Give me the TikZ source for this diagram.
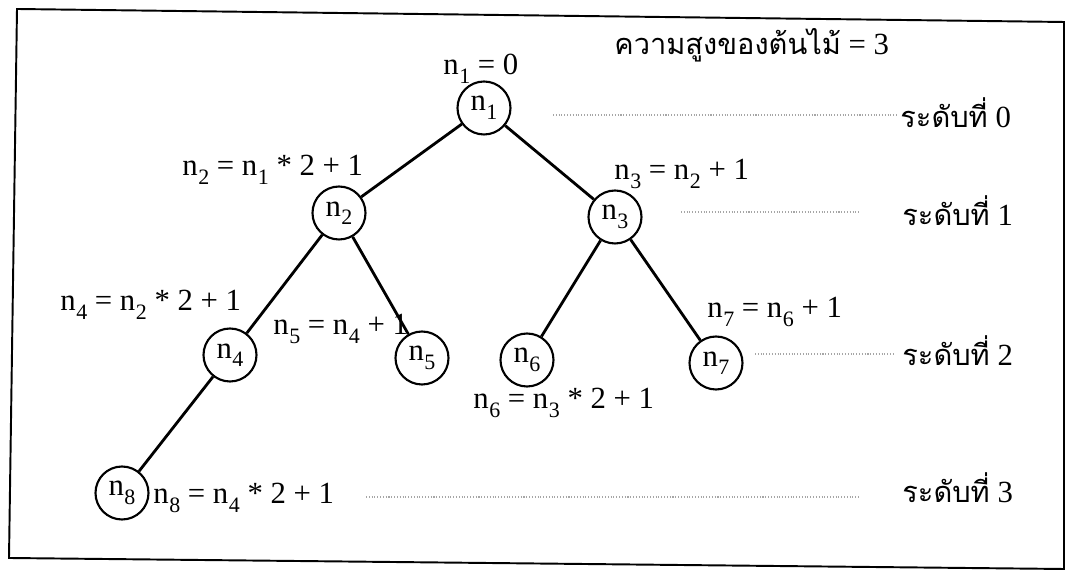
\documentclass[tikz,border=0pt]{standalone}
\usepackage{fontspec}
\setmainfont{Liberation Serif}
\newfontfamily\thaifont[Script=Thai]{Loma}
\newcommand{\nsub}[1]{n\kern0.3pt\raisebox{-0.6ex}{\fontsize{12.5}{12.5}\selectfont #1}}

\begin{document}
\begin{tikzpicture}[
  font=\fontsize{17.5}{20}\selectfont,
  vtx/.style={circle,draw,line width=1.2pt,minimum size=1.06cm,inner sep=0pt},
  eqn/.style={anchor=base west,inner sep=0pt},
  lvl/.style={anchor=base west,inner sep=0pt},
  edge/.style={line width=1.6pt},
  guide/.style={gray!70,densely dotted,line width=0.6pt}
]
  \useasboundingbox (0,0) rectangle (21.36,11.44);
  % frame
  \draw[line width=1.1pt] (0.34,11.26) -- (21.28,11.00) -- (21.28,0.06) -- (0.18,0.28) -- cycle;

  % tree nodes
  \node[vtx](n1) at (9.68,9.28)  {\nsub{1}};
  \node[vtx](n2) at (6.78,7.18)  {\nsub{2}};
  \node[vtx](n3) at (12.30,7.10) {\nsub{3}};
  \node[vtx](n4) at (4.60,4.34)  {\nsub{4}};
  \node[vtx](n5) at (8.44,4.28)  {\nsub{5}};
  \node[vtx](n6) at (10.54,4.24) {\nsub{6}};
  \node[vtx](n7) at (14.32,4.18) {\nsub{7}};
  \node[vtx](n8) at (2.44,1.58)  {\nsub{8}};

  \draw[edge] (n1) -- (n2);
  \draw[edge] (n1) -- (n3);
  \draw[edge] (n2) -- (n4);
  \draw[edge] (n2) -- (n5);
  \draw[edge] (n3) -- (n6);
  \draw[edge] (n3) -- (n7);
  \draw[edge] (n4) -- (n8);

  % equations
  \node[eqn](e1) at (8.86,9.94)  {\nsub{1} = 0};
  \node[eqn](e2) at (3.64,7.92)  {\nsub{2} = \nsub{1} * 2 + 1};
  \node[eqn](e3) at (12.28,7.84) {\nsub{3} = \nsub{2} + 1};
  \node[eqn](e4) at (1.20,5.22)  {\nsub{4} = \nsub{2} * 2 + 1};
  \node[eqn](e5) at (5.46,4.74)  {\nsub{5} = \nsub{4} + 1};
  \node[eqn](e6) at (9.46,3.26)  {\nsub{6} = \nsub{3} * 2 + 1};
  \node[eqn](e7) at (14.14,5.08) {\nsub{7} = \nsub{6} + 1};
  \node[eqn](e8) at (3.06,1.36)  {\nsub{8} = \nsub{4} * 2 + 1};

  % height and levels
  \node[eqn](ht) at (12.28,10.34) {{\thaifont\fontsize{16.5}{20}\selectfont ความสูงของต้นไม้} = 3};
  \node[lvl](l0) at (18.00,8.88) {{\thaifont\fontsize{16.5}{20}\selectfont ระดับที่} 0};
  \node[lvl](l1) at (18.04,6.92) {{\thaifont\fontsize{16.5}{20}\selectfont ระดับที่} 1};
  \node[lvl](l2) at (18.04,4.12) {{\thaifont\fontsize{16.5}{20}\selectfont ระดับที่} 2};
  \node[lvl](l3) at (18.04,1.38) {{\thaifont\fontsize{16.5}{20}\selectfont ระดับที่} 3};

  \coordinate (g0) at (11.06,9.14);
  \coordinate (g1) at (13.62,7.20);
  \coordinate (g2) at (15.10,4.36);
  \coordinate (g3) at (7.32,1.50);
  \draw[guide] (g0) -- ([xshift=-2pt]g0 -| l0.west);
  \draw[guide] (g1) -- ([xshift=-24pt]g1 -| l1.west);
  \draw[guide] (g2) -- ([xshift=-4pt]g2 -| l2.west);
  \draw[guide] (g3) -- ([xshift=-24pt]g3 -| l3.west);
\end{tikzpicture}
\end{document}
